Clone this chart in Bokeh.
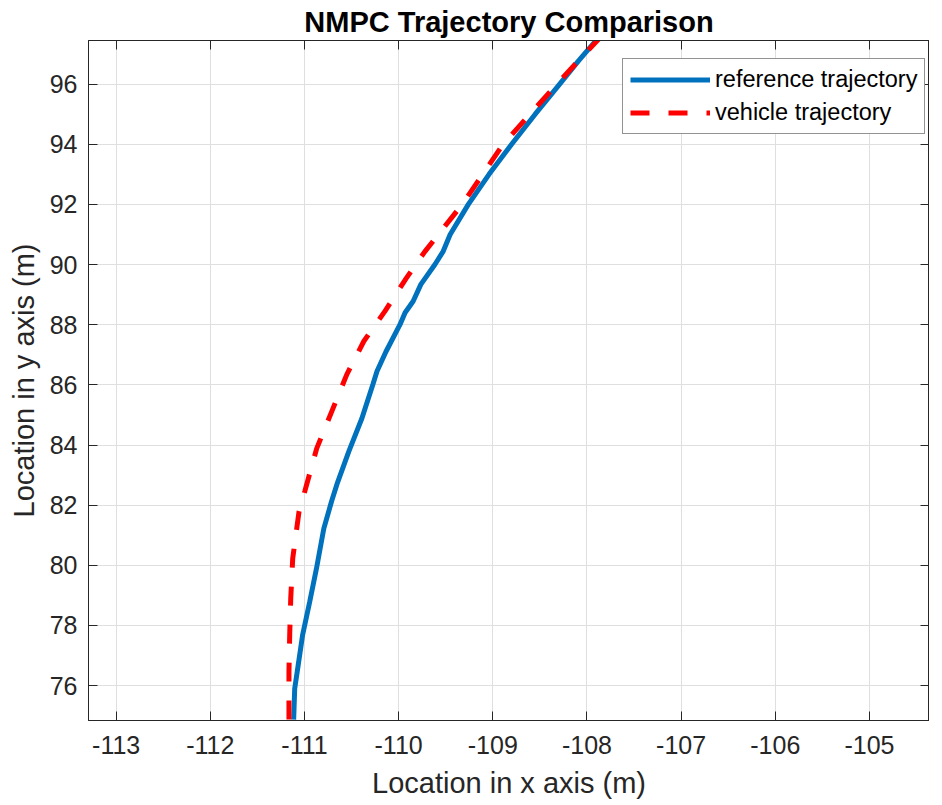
from bokeh.plotting import figure
from bokeh.models import Range1d, LinearAxis, FixedTicker, Legend, LegendItem, CustomJSTickFormatter
from bokeh.embed import file_html
from bokeh.resources import INLINE

# ---- data ----
ref_x = [-111.115, -111.104, -111.072, -111.019, -110.944, -110.873, -110.795, -110.713,
         -110.656, -110.529, -110.39, -110.273, -110.23, -110.134, -109.985, -109.932,
         -109.846, -109.764, -109.613, -109.527, -109.453, -109.26, -109.04, -108.80,
         -108.55, -108.29, -108.09, -107.89]
ref_y = [74.87, 75.90, 76.57, 77.70, 78.80, 79.89, 81.22, 82.12,
         82.69, 83.79, 84.89, 86.02, 86.45, 87.11, 88.01, 88.40,
         88.78, 89.34, 90.01, 90.44, 91.0, 92.0, 93.0, 94.0,
         95.0, 96.0, 96.77, 97.5]

veh_x = [-111.165, -111.165, -111.157, -111.146, -111.125, -111.058, -110.997, -110.87,
         -110.71, -110.55, -110.37, -110.145, -109.92, -109.72, -109.325, -108.89,
         -108.32, -107.875]
veh_y = [74.87, 76.47, 77.70, 78.90, 80.23, 81.79, 82.46, 83.89,
         85.12, 86.35, 87.45, 88.45, 89.54, 90.44, 92.0, 94.0,
         96.0, 97.5]

x_ticks = [-113, -112, -111, -110, -109, -108, -107, -106, -105]
y_ticks = [76, 78, 80, 82, 84, 86, 88, 90, 92, 94, 96]

title_text = "NMPC Trajectory Comparison"
x_label = "Location in x axis (m)"
y_label = "Location in y axis (m)"
series_names = ["reference trajectory", "vehicle trajectory"]

FONT = "Liberation Sans"
AX = "#262626"

p = figure(x_range=Range1d(-113.294, -104.362), y_range=Range1d(74.84, 97.45),
           frame_width=841, frame_height=680,
           output_backend="svg", toolbar_location=None,
           min_border_left=88, min_border_right=0, min_border_top=0, min_border_bottom=0,
           background_fill_color="white", border_fill_color="white")

p.title.text = title_text
p.title.text_font = FONT
p.title.text_font_size = "29px"
p.title.text_font_style = "bold"
p.title.align = "center"
p.title.text_color = "black"
p.title.standoff = 6

p.outline_line_color = AX
p.outline_line_width = 1

plain = CustomJSTickFormatter(code="return tick.toFixed(0)")
for ax, ticks in ((p.xaxis[0], x_ticks), (p.yaxis[0], y_ticks)):
    ax.ticker = FixedTicker(ticks=ticks)
    ax.formatter = plain
    ax.major_tick_in = 9
    ax.major_tick_out = 0
    ax.minor_tick_in = 0
    ax.minor_tick_out = 0
    ax.axis_line_color = AX
    ax.major_tick_line_color = AX
    ax.major_label_text_font = FONT
    ax.major_label_text_font_size = "25px"
    ax.major_label_text_color = AX
    ax.axis_label_text_font = FONT
    ax.axis_label_text_font_size = "29px"
    ax.axis_label_text_font_style = "normal"
    ax.axis_label_text_color = AX

p.xaxis[0].axis_label = x_label
p.yaxis[0].axis_label = y_label
p.xaxis[0].major_label_standoff = 15
p.xaxis[0].axis_label_standoff = 10
p.yaxis[0].major_label_standoff = 11
p.yaxis[0].axis_label_standoff = 7

empty = CustomJSTickFormatter(code="return ''")
top = LinearAxis(ticker=FixedTicker(ticks=x_ticks), formatter=empty,
                 major_tick_in=9, major_tick_out=0, minor_tick_in=0, minor_tick_out=0,
                 major_label_standoff=0, major_label_text_font_size="0px",
                 axis_line_color=AX, major_tick_line_color=AX)
right = LinearAxis(ticker=FixedTicker(ticks=y_ticks), formatter=empty,
                   major_tick_in=9, major_tick_out=0, minor_tick_in=0, minor_tick_out=0,
                   major_label_standoff=0, major_label_text_font_size="0px",
                   axis_line_color=AX, major_tick_line_color=AX)
p.add_layout(top, "above")
p.add_layout(right, "right")

p.xgrid.ticker = FixedTicker(ticks=x_ticks)
p.ygrid.ticker = FixedTicker(ticks=y_ticks)
p.grid.grid_line_color = "#dfdfdf"
p.grid.grid_line_width = 1

r1 = p.line(ref_x, ref_y, line_color="#0072BD", line_width=5)
r2 = p.line(veh_x, veh_y, line_color="#FF0000", line_width=5, line_dash="19 19")

legend = Legend(items=[LegendItem(label=series_names[0], renderers=[r1]),
                       LegendItem(label=series_names[1], renderers=[r2])],
                location=(534, 586))
legend.label_text_font = FONT
legend.label_text_font_size = "23.5px"
legend.label_text_color = "black"
legend.glyph_width = 80
legend.glyph_height = 27
legend.label_height = 27
legend.label_standoff = 5
legend.spacing = 6
legend.padding = 7
legend.margin = 0
legend.border_line_color = AX
legend.border_line_width = 1
legend.background_fill_color = "white"
legend.background_fill_alpha = 1
p.add_layout(legend, "center")

open("out.html", "w").write(file_html(p, INLINE))
